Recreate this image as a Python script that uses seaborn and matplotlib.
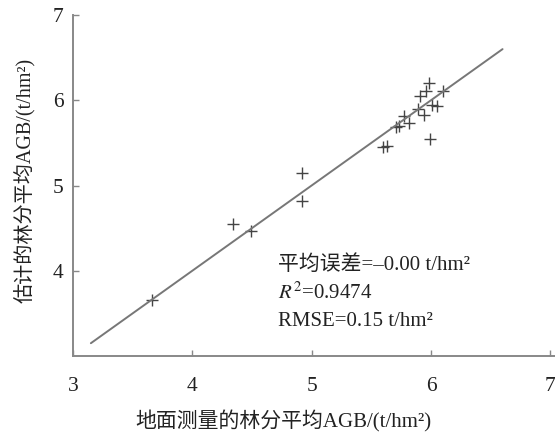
import matplotlib
matplotlib.use("Agg")
import matplotlib.pyplot as plt
import seaborn as sns
import pandas as pd

# ground-measured vs estimated stand mean AGB
measured = [3.66, 4.34, 4.49, 4.92, 4.92, 5.60, 5.63, 5.71, 5.73, 5.77, 5.82,
            5.89, 5.91, 5.94, 5.96, 5.98, 5.99, 6.01, 6.05, 6.10]
estimated = [3.66, 4.55, 4.47, 5.15, 4.82, 5.45, 5.46, 5.69, 5.70, 5.81, 5.73,
             5.90, 6.05, 5.83, 6.11, 6.20, 5.55, 5.94, 5.93, 6.11]
line_x = [3.15, 6.6]   # 1:1 line extent
line_y = [3.15, 6.6]

x_ticks = [3, 4, 5, 6, 7]
y_ticks = [4, 5, 6, 7]

stats_lines = ["平均误差=–0.00 t/hm²", "$R^2$=0.9474", "RMSE=0.15 t/hm²"]

df = pd.DataFrame({"measured": measured, "estimated": estimated})
line_df = pd.DataFrame({"x": line_x, "y": line_y})

sns.set_style("ticks")
plt.rcParams["font.family"] = ["Liberation Serif", "Noto Sans CJK SC"]
plt.rcParams["mathtext.fontset"] = "stix"

fig = plt.figure(figsize=(5.55, 4.42), dpi=100)
ax = fig.add_axes([0.1315, 0.1946, 0.86, 0.7714])

sns.lineplot(data=line_df, x="x", y="y", color="#777777", linewidth=1.4, ax=ax)
sns.scatterplot(data=df, x="measured", y="estimated", marker="+", s=80,
                color="#444444", linewidth=1.0, ax=ax)

ax.set_xlim(3, 7)
ax.set_ylim(3, 7)
ax.set_xticks(x_ticks)
ax.set_yticks(y_ticks)
for s in ["top", "right"]:
    ax.spines[s].set_visible(False)
for s in ["left", "bottom"]:
    ax.spines[s].set_color("#888888")
    ax.spines[s].set_linewidth(1.4)
ax.spines["bottom"].set_bounds(3, 7.05)
ax.tick_params(axis="both", direction="in", length=4, width=1, color="#888888",
               labelsize=15.5, labelcolor="#222222")
ax.tick_params(axis="x", pad=15)
ax.tick_params(axis="y", pad=7)

ax.set_xlabel("地面测量的林分平均AGB/(t/hm²)", fontsize=15, color="#222222")
ax.xaxis.set_label_coords(0.44, -0.16)
ax.set_ylabel("估计的林分平均AGB/(t/hm²)", fontsize=14.5, color="#222222")
ax.yaxis.set_label_coords(-0.08, 0.515)

for i, t in enumerate(stats_lines):
    ax.text(4.72, 4.07 - 0.33 * i, t, fontsize=15, color="#222222",
            ha="left", va="center")

fig.savefig("out.png", dpi=100)
